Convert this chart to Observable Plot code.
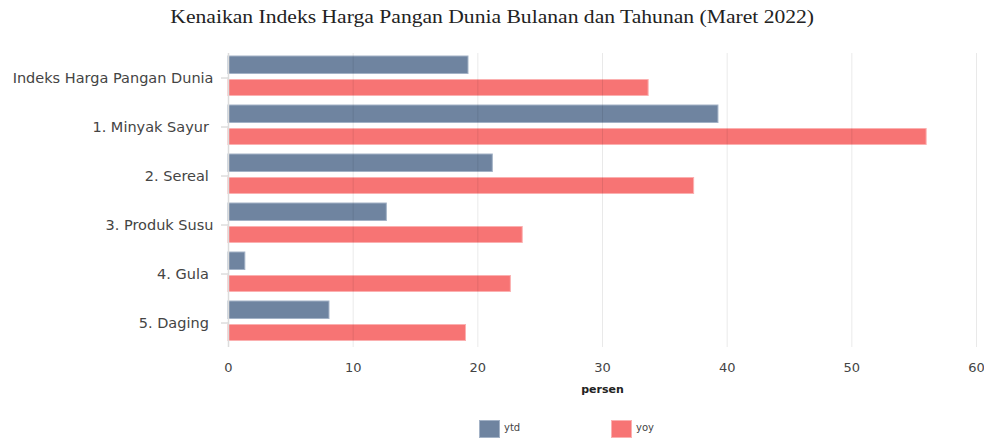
<!DOCTYPE html>
<html>
<head>
<meta charset="utf-8">
<script src="https://cdn.jsdelivr.net/npm/d3@7"></script>
<script src="https://cdn.jsdelivr.net/npm/@observablehq/plot@0.6"></script>
<style>
  html, body { margin: 0; padding: 0; background: #fff; }
  #wrap { position: relative; width: 984px; height: 438px; overflow: hidden; }
  #title { position: absolute; top: 7px; left: 0; width: 984px; text-align: center;
    font-family: "Liberation Serif", "DejaVu Serif", serif; font-size: 18px; color: #222; }
  #title span { display: inline-block; transform: scaleX(1.2); transform-origin: center; white-space: nowrap; }
  #chart { position: absolute; top: 0; left: 0; }
  .leg { position: absolute; font-family: "DejaVu Sans", sans-serif; font-size: 10px; color: #444; }
  .sw { position: absolute; width: 19px; height: 16px; }
</style>
</head>
<body>
<div id="wrap">
  <div id="chart"></div>
  <div id="title"><span>Kenaikan Indeks Harga Pangan Dunia Bulanan dan Tahunan (Maret 2022)</span></div>
  <div id="legend"></div>
</div>
<script>
const categories = ["Indeks Harga Pangan Dunia", "1. Minyak Sayur ", "2. Sereal ", "3. Produk Susu", "4. Gula ", "5. Daging "];
const ytd = [19.25, 39.3, 21.2, 12.7, 1.35, 8.1];
const yoy = [33.7, 56.0, 37.35, 23.6, 22.65, 19.05];
const xTicks = [0, 10, 20, 30, 40, 50, 60];
const seriesNames = ["ytd", "yoy"];
const seriesColors = ["#6f84a0", "#f77474"];
const seriesStrokes = ["#a3b2c6", "#fbb0b0"];
const axisLabel = "persen";

const rowsYtd = categories.map((c, i) => ({category: c, value: ytd[i]}));
const rowsYoy = categories.map((c, i) => ({category: c, value: yoy[i]}));

const chart = Plot.plot({
  width: 984,
  height: 410,
  marginTop: 53,
  marginBottom: 63,
  marginLeft: 228,
  marginRight: 8,
  style: {fontFamily: "DejaVu Sans, sans-serif", fontSize: "13px", color: "#444", background: "transparent"},
  x: {domain: [0, 60], ticks: xTicks, label: null, axis: null},
  y: {domain: categories, padding: 0, label: null, axis: null},
  marks: [
    Plot.barX(rowsYtd, {x: "value", y: "category", fill: seriesColors[0], stroke: seriesStrokes[0], strokeWidth: 1, insetTop: 3, insetBottom: 28.5}),
    Plot.barX(rowsYoy, {x: "value", y: "category", fill: seriesColors[1], stroke: seriesStrokes[1], strokeWidth: 1, insetTop: 26.5, insetBottom: 6.5}),
    Plot.ruleX(xTicks.filter(d => d > 0), {stroke: "#000", strokeOpacity: 0.085}),
    Plot.ruleX([0], {stroke: "#dcdcdc", strokeWidth: 1.5}),
    Plot.axisX({ticks: xTicks, tickSize: 0, tickPadding: 15, fontSize: 13, label: null, fill: "#444"}),
    Plot.axisY({tickSize: 7, tickPadding: 8, fontSize: 14.5, label: null, stroke: "#ccc", fill: "#444",
      style: {letterSpacing: "0.55px"},
      tickFormat: d => d.replace(/ $/, "\u00a0")}),
    Plot.text([axisLabel], {frameAnchor: "bottom", dy: 45, text: d => d, fontWeight: "bold", fontSize: 11, fill: "#222"})
  ]
});
document.getElementById("chart").appendChild(chart);

const legend = document.getElementById("legend");
const legX = [479, 611];
seriesNames.forEach((n, i) => {
  const sw = document.createElement("div");
  sw.className = "sw";
  sw.style.left = legX[i] + "px";
  sw.style.top = "420px";
  sw.style.background = seriesColors[i];
  sw.style.border = "1px solid " + seriesStrokes[i];
  legend.appendChild(sw);
  const t = document.createElement("div");
  t.className = "leg";
  t.style.left = (legX[i] + 25) + "px";
  t.style.top = "422px";
  t.textContent = n;
  legend.appendChild(t);
});
</script>
</body>
</html>
